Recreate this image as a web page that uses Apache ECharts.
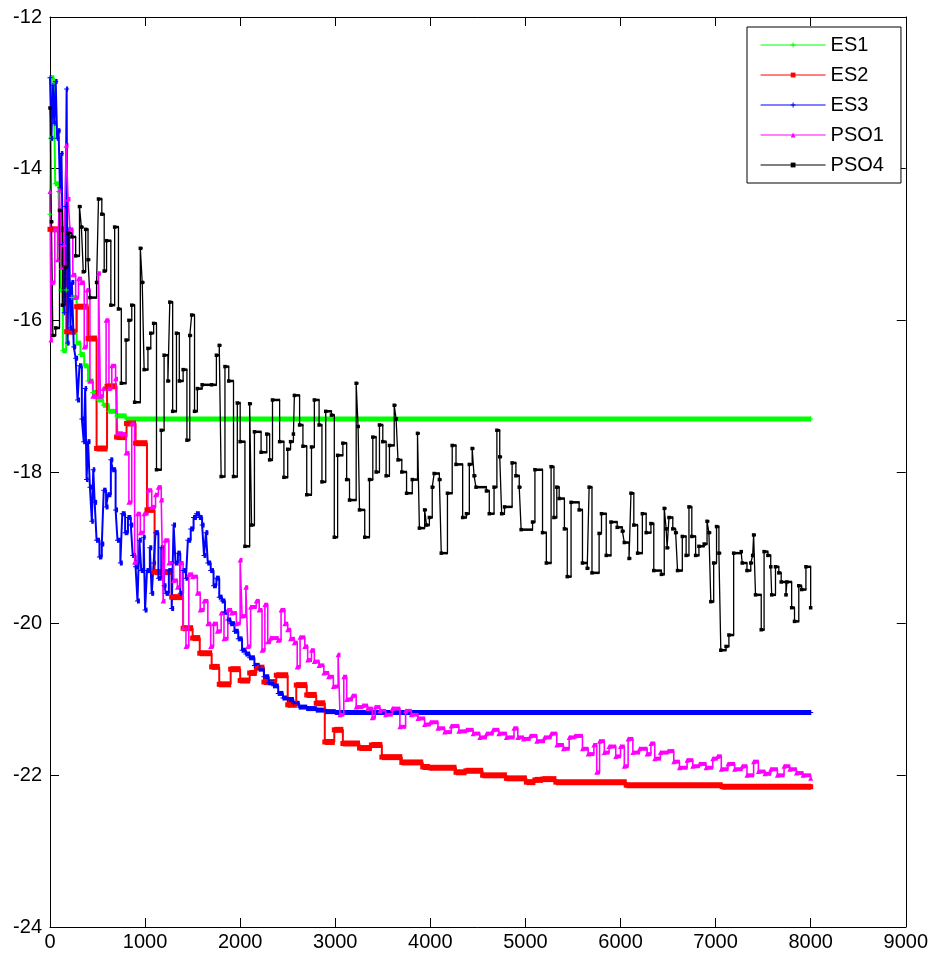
<!DOCTYPE html>
<html><head><meta charset="utf-8">
<script src="https://cdn.jsdelivr.net/npm/echarts@6.0.0/dist/echarts.min.js"></script>
<style>html,body{margin:0;padding:0;background:#fff}#c{width:931px;height:958px}</style>
</head><body><div id="c"></div>
<script>
const xTicks = [0,1000,2000,3000,4000,5000,6000,7000,8000,9000];
const yTicks = [-24,-22,-20,-18,-16,-14,-12];
const seriesNames = ['ES1','ES2','ES3','PSO1','PSO4'];

const es1 = [[0,-14.6],[8,-13.6],[15,-12.8],[40,-12.85],[55,-14.2],[90,-14.3],[110,-15.6],[135,-16.4],[170,-15.6],[230,-15.7],[280,-16.3],[320,-16.45],[360,-16.6],[400,-16.8],[450,-16.95],[500,-17.05],[560,-17.12],[620,-17.2],[700,-17.26],[800,-17.3],[8000,-17.3]];

const es2 = [[0,-14.8],[175,-16.15],[280,-15.82],[400,-16.24],[490,-17.69],[600,-16.87],[700,-17.54],[805,-17.36],[900,-17.62],[1020,-18.5],[1100,-19.32],[1280,-19.65],[1400,-20.06],[1500,-20.19],[1575,-20.39],[1700,-20.57],[1780,-20.8],[1900,-20.6],[2000,-20.75],[2100,-20.65],[2170,-20.58],[2250,-20.77],[2380,-20.68],[2500,-21.07],[2590,-20.81],[2700,-20.94],[2800,-21.05],[2890,-21.56],[2990,-21.4],[3080,-21.58],[3255,-21.64],[3380,-21.6],[3490,-21.76],[3700,-21.83],[3920,-21.89],[3990,-21.9],[4270,-21.96],[4375,-21.94],[4550,-22.0],[4800,-22.04],[5010,-22.09],[5100,-22.06],[5180,-22.05],[5320,-22.09],[6060,-22.13],[7070,-22.15],[8000,-22.15]];

const es3 = [[0,-12.8],[15,-13.6],[30,-12.9],[45,-13.4],[60,-12.85],[75,-13.6],[90,-13.5],[105,-14.25],[120,-13.8],[135,-15.0],[150,-15.9],[165,-14.5],[175,-12.95],[185,-16.3],[200,-14.8],[215,-16.1],[230,-15.5],[250,-16.35],[270,-16.5],[290,-17.05],[310,-16.6],[335,-17.3],[355,-17.6],[370,-16.9],[385,-18.1],[400,-17.6],[420,-18.2],[440,-18.65],[455,-17.97],[470,-18.4],[490,-18.9],[520,-19.12],[545,-18.95],[565,-18.24],[590,-18.46],[610,-18.3],[640,-17.84],[660,-17.97],[690,-18.5],[710,-18.9],[740,-19.2],[760,-18.55],[790,-18.8],[820,-18.6],[850,-18.7],[870,-19.1],[900,-19.25],[920,-19.7],[940,-18.9],[960,-19.3],[985,-18.86],[1000,-19.82],[1020,-19.3],[1050,-19.0],[1070,-19.6],[1090,-19.2],[1110,-18.8],[1140,-19.4],[1170,-19.0],[1200,-19.5],[1220,-19.6],[1250,-19.3],[1280,-19.8],[1300,-18.7],[1320,-19.2],[1345,-19.07],[1370,-19.6],[1400,-19.3],[1430,-19.4],[1450,-18.9],[1480,-18.75],[1510,-18.6],[1540,-18.55],[1570,-18.6],[1600,-18.7],[1620,-19.1],[1640,-18.8],[1660,-19.2],[1690,-19.3],[1720,-19.5],[1750,-19.4],[1780,-19.65],[1810,-19.7],[1840,-19.85],[1870,-19.95],[1900,-20.0],[1940,-20.1],[1980,-20.2],[2020,-20.35],[2060,-20.4],[2100,-20.45],[2150,-20.55],[2200,-20.6],[2250,-20.7],[2300,-20.78],[2350,-20.82],[2400,-20.92],[2450,-20.98],[2500,-21.0],[2560,-21.05],[2620,-21.1],[2700,-21.12],[2800,-21.14],[2900,-21.16],[3000,-21.17],[8000,-21.17]];

const pso1 = [[0,-14.3],[10,-16.26],[25,-15.5],[50,-14.8],[80,-15.2],[100,-14.28],[120,-15.3],[150,-15.0],[170,-13.69],[190,-14.4],[210,-14.8],[240,-15.4],[270,-15.7],[300,-15.45],[330,-15.5],[360,-16.35],[390,-15.6],[420,-16.8],[450,-17.0],[480,-17.0],[510,-15.38],[530,-17.0],[560,-16.9],[590,-16.0],[620,-16.9],[650,-16.6],[690,-16.77],[710,-17.49],[760,-17.5],[800,-17.75],[830,-18.4],[860,-17.36],[890,-19.19],[920,-18.55],[950,-18.8],[990,-18.55],[1030,-18.24],[1070,-18.46],[1110,-18.3],[1140,-18.2],[1170,-18.37],[1190,-19.7],[1210,-18.9],[1250,-19.2],[1300,-19.43],[1340,-19.52],[1370,-19.2],[1400,-20.05],[1430,-20.3],[1460,-19.35],[1500,-19.38],[1550,-19.6],[1580,-19.82],[1620,-19.7],[1660,-20.0],[1690,-20.3],[1720,-20.0],[1760,-20.1],[1800,-19.86],[1830,-20.2],[1870,-19.82],[1910,-19.86],[1960,-20.0],[2000,-19.16],[2020,-19.9],[2060,-19.52],[2080,-20.3],[2110,-19.78],[2170,-19.7],[2200,-19.82],[2230,-20.35],[2260,-19.75],[2290,-20.24],[2320,-20.19],[2400,-20.22],[2430,-19.82],[2470,-20.0],[2500,-20.08],[2530,-20.2],[2570,-20.25],[2600,-20.57],[2630,-20.18],[2680,-20.3],[2710,-20.48],[2750,-20.35],[2780,-20.5],[2830,-20.55],[2880,-20.65],[2930,-20.7],[2980,-20.83],[3030,-20.41],[3050,-21.2],[3090,-20.7],[3120,-21.0],[3180,-20.95],[3220,-21.1],[3290,-21.08],[3340,-21.12],[3390,-21.24],[3420,-21.1],[3470,-21.15],[3530,-21.2],[3600,-21.12],[3680,-21.36],[3740,-21.15],[3800,-21.2],[3870,-21.25],[3940,-21.33],[4000,-21.3],[4080,-21.38],[4150,-21.43],[4220,-21.35],[4300,-21.42],[4380,-21.4],[4450,-21.45],[4520,-21.5],[4590,-21.45],[4660,-21.4],[4720,-21.45],[4800,-21.5],[4880,-21.38],[4920,-21.5],[4980,-21.52],[5050,-21.48],[5120,-21.55],[5200,-21.5],[5270,-21.45],[5330,-21.6],[5400,-21.65],[5460,-21.5],[5520,-21.48],[5600,-21.65],[5660,-21.72],[5720,-21.6],[5750,-21.96],[5780,-21.55],[5830,-21.7],[5880,-21.62],[5950,-21.75],[6000,-21.62],[6040,-21.88],[6080,-21.52],[6130,-21.7],[6200,-21.65],[6280,-21.72],[6320,-21.58],[6360,-21.78],[6420,-21.7],[6500,-21.68],[6560,-21.82],[6620,-21.9],[6700,-21.8],[6760,-21.88],[6830,-21.85],[6900,-21.9],[6970,-21.78],[7020,-21.75],[7060,-21.92],[7130,-21.85],[7200,-21.92],[7280,-21.88],[7330,-22.0],[7400,-21.82],[7450,-21.95],[7520,-21.98],[7580,-21.92],[7650,-22.0],[7720,-21.88],[7780,-21.92],[7850,-21.97],[7920,-22.0],[8000,-22.04]];

const pso4 = [[0,-13.2],[15,-14.7],[30,-16.2],[60,-16.1],[100,-14.55],[130,-15.8],[160,-15.3],[190,-14.85],[230,-14.9],[270,-15.15],[310,-14.5],[330,-14.77],[350,-15.36],[375,-14.8],[400,-15.2],[420,-15.7],[490,-15.5],[510,-14.4],[545,-14.6],[570,-15.35],[595,-14.95],[640,-15.8],[680,-14.77],[720,-15.85],[750,-16.83],[800,-16.26],[830,-16.0],[860,-15.8],[890,-17.08],[950,-15.05],[970,-15.5],[990,-16.65],[1030,-16.37],[1060,-16.17],[1090,-16.04],[1120,-17.97],[1170,-17.45],[1200,-16.46],[1240,-16.8],[1260,-15.76],[1290,-17.2],[1330,-16.17],[1360,-16.8],[1400,-16.65],[1440,-17.58],[1470,-16.2],[1490,-15.93],[1520,-17.2],[1550,-16.9],[1600,-16.85],[1700,-16.85],[1750,-16.46],[1780,-16.33],[1800,-18.06],[1840,-16.61],[1880,-16.8],[1930,-18.06],[1970,-17.09],[2000,-17.6],[2050,-18.98],[2100,-17.1],[2120,-18.7],[2150,-17.47],[2220,-17.74],[2280,-17.5],[2310,-17.84],[2340,-17.05],[2415,-17.6],[2460,-18.07],[2500,-17.7],[2530,-17.6],[2560,-17.5],[2570,-16.99],[2625,-17.38],[2660,-17.66],[2700,-18.3],[2750,-17.67],[2780,-17.05],[2830,-17.38],[2860,-18.13],[2900,-17.2],[2960,-17.25],[2990,-18.86],[3025,-17.78],[3080,-17.62],[3120,-18.1],[3150,-18.37],[3220,-16.83],[3240,-17.4],[3255,-18.5],[3310,-18.86],[3360,-18.1],[3395,-17.54],[3430,-18.0],[3465,-17.38],[3500,-17.6],[3535,-18.05],[3570,-17.65],[3620,-17.12],[3640,-17.3],[3660,-17.84],[3700,-18.0],[3750,-18.28],[3810,-18.1],[3865,-17.49],[3885,-18.74],[3940,-18.5],[3960,-18.7],[3990,-18.6],[4020,-18.2],[4040,-18.02],[4095,-18.1],[4115,-19.07],[4180,-18.28],[4230,-17.65],[4270,-17.9],[4340,-18.6],[4380,-18.55],[4410,-17.9],[4440,-17.69],[4460,-18.05],[4480,-18.2],[4590,-18.25],[4620,-18.55],[4670,-18.2],[4700,-17.45],[4730,-17.8],[4750,-18.55],[4780,-18.46],[4860,-17.88],[4900,-18.05],[4935,-18.2],[4955,-18.76],[5075,-18.66],[5100,-17.97],[5180,-18.8],[5220,-19.2],[5270,-17.93],[5300,-18.6],[5330,-18.2],[5355,-18.35],[5410,-18.75],[5440,-19.38],[5480,-18.4],[5565,-18.5],[5600,-19.2],[5650,-19.27],[5670,-18.2],[5700,-19.33],[5775,-18.81],[5800,-18.55],[5850,-19.1],[5900,-18.66],[5965,-18.73],[6020,-18.78],[6040,-18.93],[6090,-19.14],[6110,-18.28],[6140,-18.7],[6180,-19.07],[6230,-18.55],[6270,-18.8],[6320,-18.68],[6350,-19.3],[6430,-19.35],[6460,-18.48],[6480,-18.75],[6490,-19.0],[6510,-18.6],[6550,-18.75],[6580,-18.8],[6600,-19.3],[6650,-18.85],[6690,-19.1],[6720,-18.46],[6750,-18.85],[6790,-19.1],[6825,-18.98],[6880,-18.95],[6910,-18.65],[6930,-18.8],[6950,-19.71],[6980,-19.2],[7010,-18.72],[7035,-19.07],[7055,-20.35],[7110,-20.3],[7140,-20.15],[7190,-19.07],[7270,-19.05],[7280,-19.2],[7330,-19.3],[7370,-19.2],[7390,-19.1],[7400,-18.83],[7420,-19.62],[7480,-20.08],[7510,-19.05],[7550,-19.1],[7580,-19.25],[7590,-19.62],[7630,-19.25],[7665,-19.33],[7690,-19.45],[7740,-19.62],[7750,-19.45],[7800,-19.79],[7830,-19.97],[7875,-19.5],[7905,-19.55],[7950,-19.25],[8000,-19.79]];

const colors = ['#00ff00','#ff0000','#0000ff','#ff00ff','#000000'];
const plusPath = 'path://M4,0L6,0L6,4L10,4L10,6L6,6L6,10L4,10L4,6L0,6L0,4L4,4Z';

function runs(d){ const r=[]; for(let i=0;i<d.length-1;i++) r.push([d[i][0], d[i][1], d[i+1][0]]); return r; }

function runSeries(name, d, color, h){
  return {
    type:'custom', name: name + ' runs', xAxisIndex:0, yAxisIndex:0, silent:true,
    data: runs(d), encode:{x:[0,2], y:1},
    renderItem: function(params, api){
      const p0 = api.coord([api.value(0), api.value(1)]);
      const p1 = api.coord([api.value(2), api.value(1)]);
      const cs = params.coordSys;
      const shape = echarts.graphic.clipRectByRect(
        {x:p0[0], y:p0[1]-h/2, width:p1[0]-p0[0]+0.5, height:h},
        {x:cs.x, y:cs.y, width:cs.width, height:cs.height});
      return shape && {type:'rect', shape: shape, style:{fill:color}};
    }
  };
}

function stairSeries(name, d, color, sym, symSize, lw){
  return {
    type:'line', name: name, data: d, step:'end', xAxisIndex:0, yAxisIndex:0,
    symbol: sym, symbolSize: symSize, showSymbol:true, showAllSymbol:true,
    lineStyle:{color:color, width:lw}, itemStyle:{color:color, borderWidth:0},
    emphasis:{disabled:true}, animation:false
  };
}

const chart = echarts.init(document.getElementById('c'), null, {renderer:'canvas'});
const axisCommonX = {type:'value', min:xTicks[0], max:xTicks[xTicks.length-1], interval:1000,
  axisLine:{show:true, onZero:false, lineStyle:{color:'#000', width:1}},
  axisTick:{show:true, inside:true, length:9, lineStyle:{color:'#000'}},
  splitLine:{show:false}};
const axisCommonY = {type:'value', min:yTicks[0], max:yTicks[yTicks.length-1], interval:2,
  axisLine:{show:true, onZero:false, lineStyle:{color:'#000', width:1}},
  axisTick:{show:true, inside:true, length:9, lineStyle:{color:'#000'}},
  splitLine:{show:false}};

chart.setOption({
  animation:false,
  backgroundColor:'#ffffff',
  grid:{left:50, right:24, top:17, bottom:31, containLabel:false},
  xAxis:[
    Object.assign({}, axisCommonX, {position:'bottom',
      axisLabel:{show:true, margin:5, color:'#000', fontSize:20,
        fontFamily:'"Liberation Sans",Arial,sans-serif',
        formatter:function(v){ return String(v); }}}),
    Object.assign({}, axisCommonX, {position:'top', axisLabel:{show:false}})
  ],
  yAxis:[
    Object.assign({}, axisCommonY, {position:'left',
      axisLabel:{show:true, margin:8, color:'#000', fontSize:20, fontFamily:'"Liberation Sans",Arial,sans-serif',
        formatter:function(v){ return String(v); }}}),
    Object.assign({}, axisCommonY, {position:'right', axisLabel:{show:false}})
  ],
  legend:{
    data: seriesNames, orient:'vertical', left:747, top:27,
    backgroundColor:'#fff', borderColor:'#000', borderWidth:1,
    padding:[8,17,8,13], itemWidth:65, itemHeight:6, itemGap:10,
    textStyle:{fontSize:20, color:'#000', fontFamily:'"Liberation Sans",Arial,sans-serif'},
    lineStyle:{width:1.2}, selectedMode:false
  },
  series:[
    runSeries('ES1', es1, colors[0], 5),
    stairSeries('ES1', es1, colors[0], plusPath, 5, 2),
    runSeries('ES2', es2, colors[1], 6),
    stairSeries('ES2', es2, colors[1], 'rect', 5, 2),
    runSeries('ES3', es3, colors[2], 5),
    stairSeries('ES3', es3, colors[2], plusPath, 5, 2),
    runSeries('PSO1', pso1, colors[3], 4),
    stairSeries('PSO1', pso1, colors[3], 'triangle', 5, 1.6),
    runSeries('PSO4', pso4, colors[4], 2.5),
    stairSeries('PSO4', pso4, colors[4], 'rect', 3.5, 1.3)
  ]
});
</script></body></html>
